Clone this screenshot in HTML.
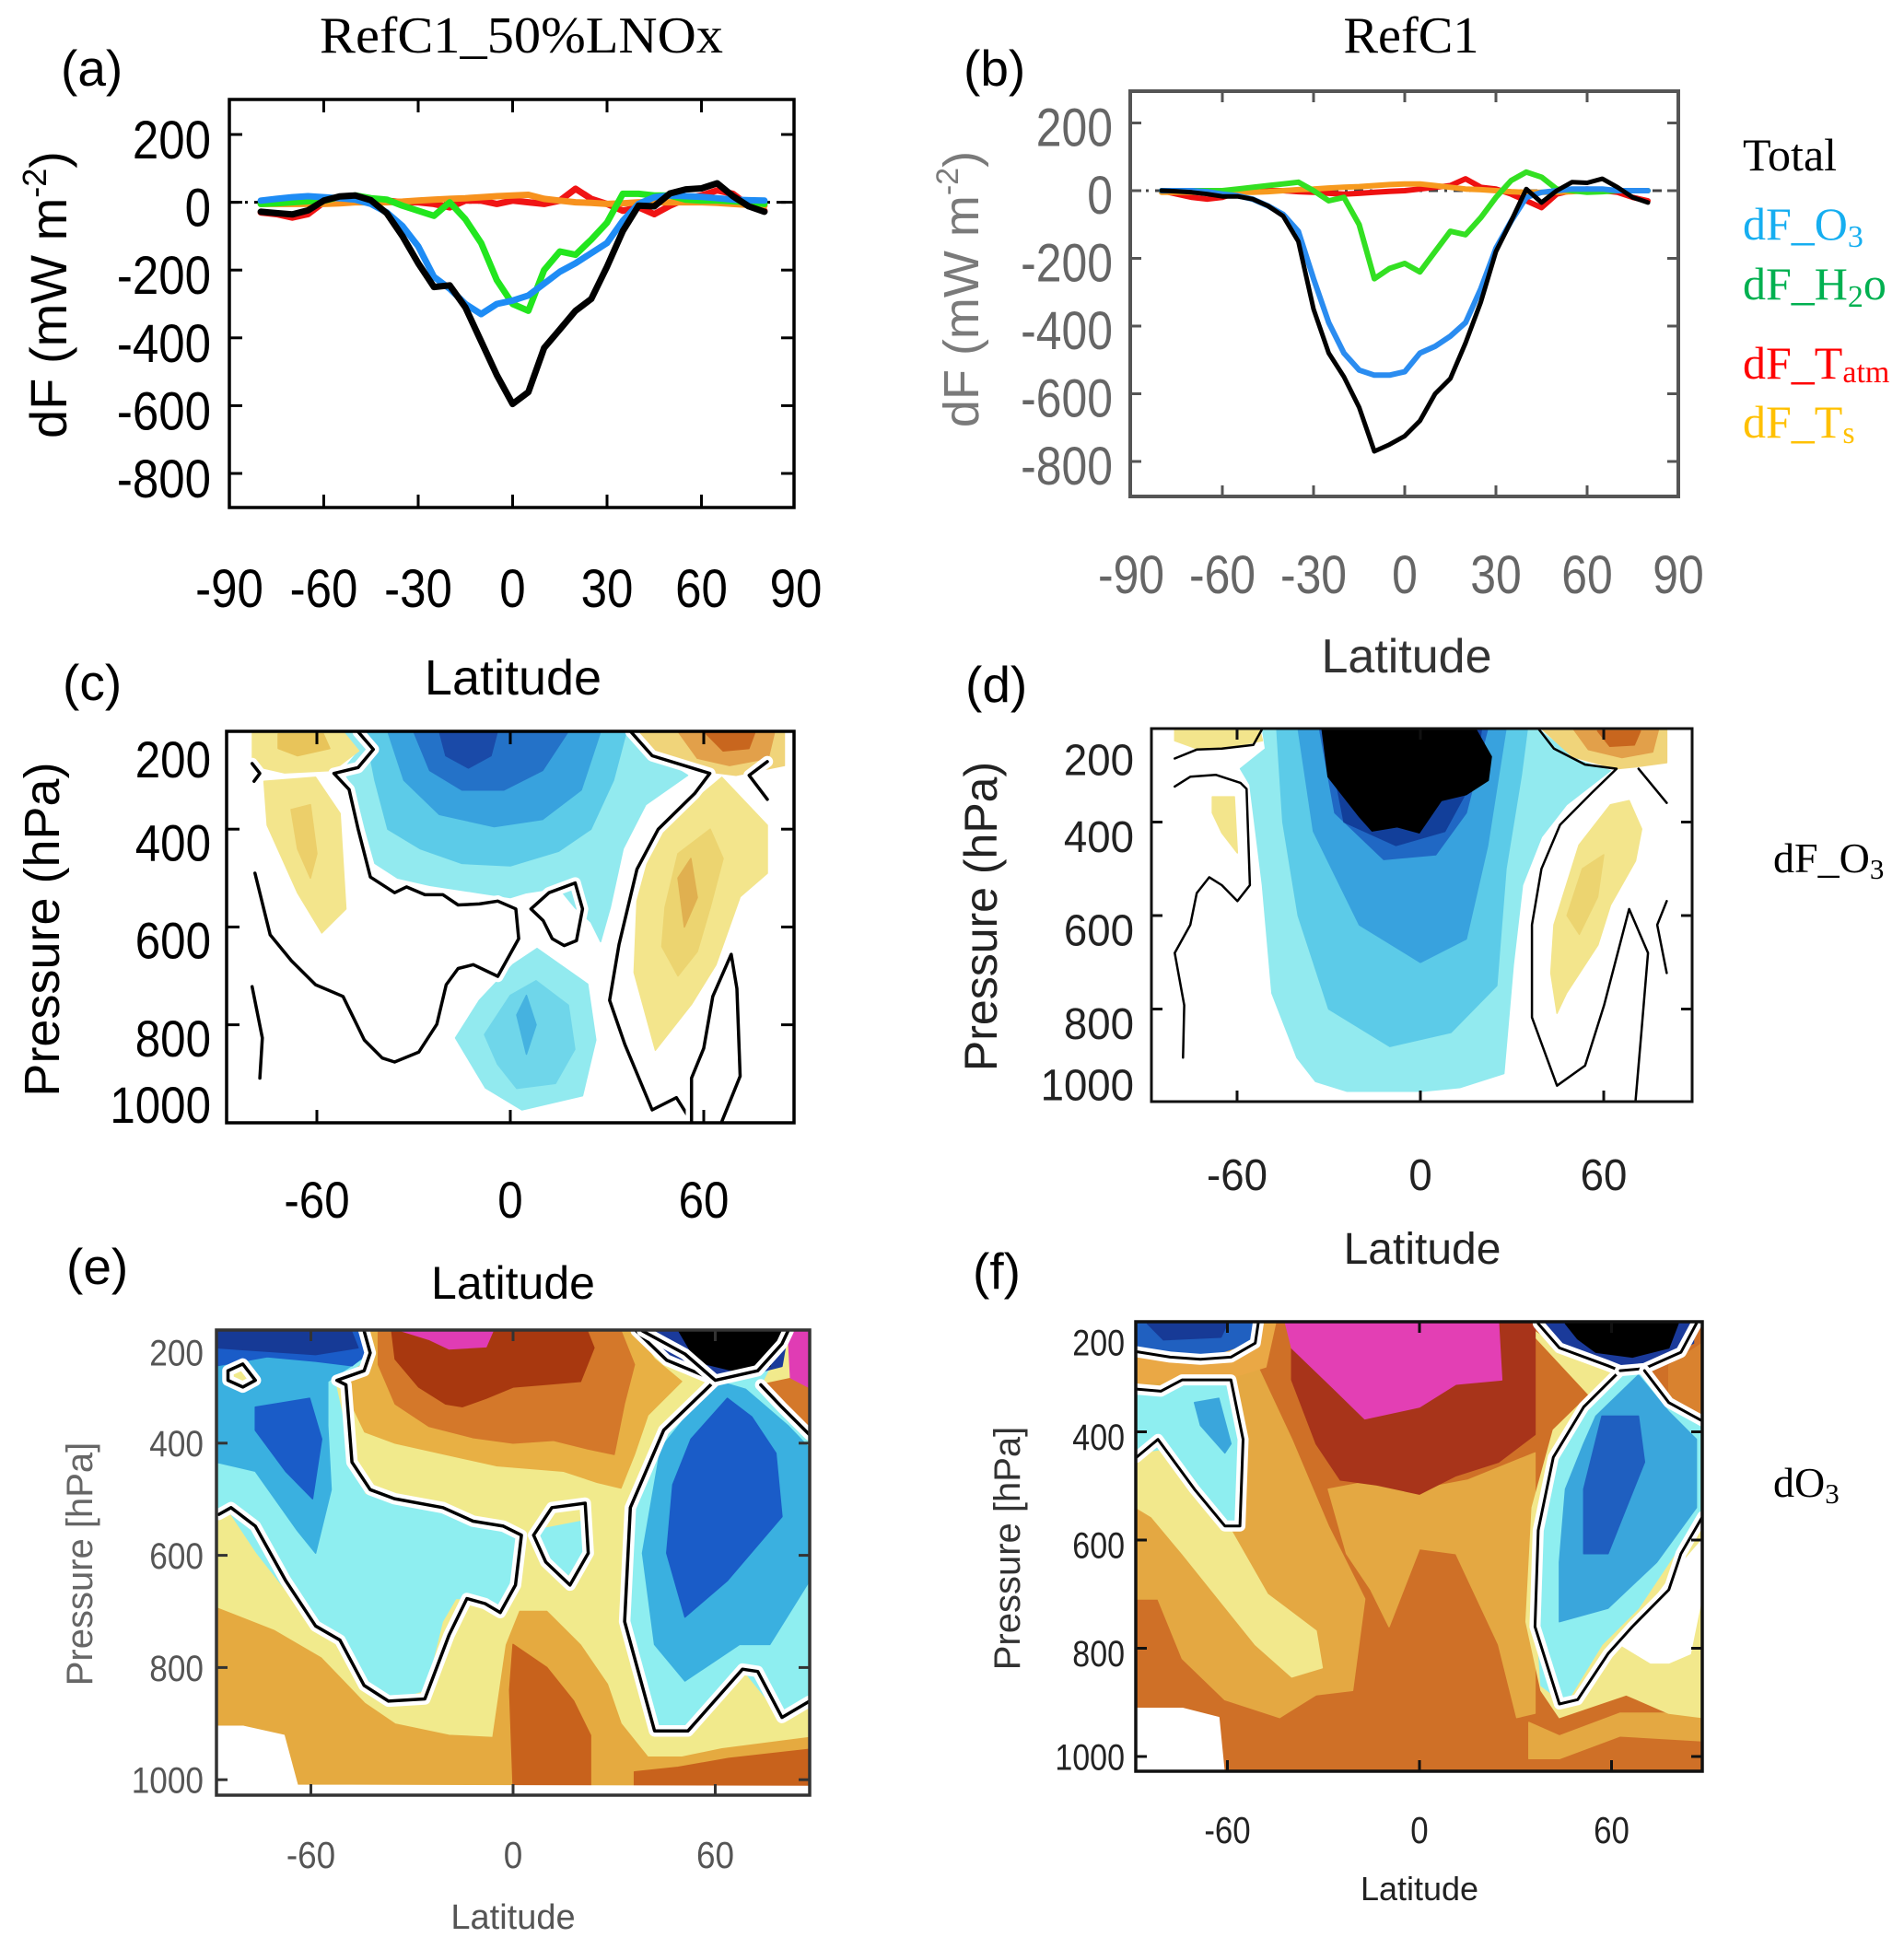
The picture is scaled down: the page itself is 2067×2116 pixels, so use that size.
<!DOCTYPE html>
<html><head><meta charset="utf-8"><title>Radiative forcing and ozone change panels</title>
<style>
html,body{margin:0;padding:0;background:#fff;}
svg{display:block;}
text{font-family:"Liberation Sans",sans-serif;}
.serif{font-family:"Liberation Serif",serif;}
</style></head>
<body>
<svg id="fig" xmlns="http://www.w3.org/2000/svg" width="2067" height="2116" viewBox="0 0 2067 2116">
<defs>
<clipPath id="clipC"><rect x="246" y="794" width="616" height="425"/></clipPath>
<clipPath id="clipD"><rect x="1250" y="791" width="587" height="405"/></clipPath>
<clipPath id="clipE"><rect x="235" y="1444" width="644" height="505"/></clipPath>
<clipPath id="clipF"><rect x="1233" y="1435" width="615" height="488"/></clipPath>
</defs>
<rect x="0" y="0" width="2067" height="2116" fill="#fff"/>

<!-- static labels -->
<text x="66" y="93" font-size="55">(a)</text>
<text x="566" y="57" class="serif" font-size="56" text-anchor="middle" textLength="438" lengthAdjust="spacingAndGlyphs">RefC1_50%LNOx</text>
<text x="1046" y="93" font-size="55">(b)</text>
<text x="1532" y="57" class="serif" font-size="56" text-anchor="middle" textLength="147" lengthAdjust="spacingAndGlyphs">RefC1</text>

<g class="serif" font-size="50">
<text class="serif" x="1892" y="185" fill="#000">Total</text>
<text class="serif" x="1892" y="260" fill="#16aef0">dF_O<tspan font-size="34" dy="8">3</tspan></text>
<text class="serif" x="1892" y="325" fill="#00b050">dF_H<tspan font-size="34" dy="8">2</tspan><tspan dy="-8">o</tspan></text>
<text class="serif" x="1892" y="411" fill="#ff0000">dF_T<tspan font-size="34" dy="4">atm</tspan></text>
<text class="serif" x="1892" y="475" fill="#ffc000">dF_T<tspan font-size="34" dy="6">s</tspan></text>
</g>

<text transform="translate(72,320) rotate(-90)" font-size="56" text-anchor="middle">dF  (mW m<tspan font-size="36" dy="-22">-2</tspan><tspan dy="22">)</tspan></text>
<text transform="translate(1062,314) rotate(-90)" font-size="54" fill="#7a7a7a" text-anchor="middle">dF  (mW m<tspan font-size="34" dy="-22">-2</tspan><tspan dy="22">)</tspan></text>
<text x="1527" y="730" font-size="52" fill="#333" text-anchor="middle">Latitude</text>

<text x="68" y="760" font-size="55">(c)</text>
<text x="557" y="754" font-size="54" text-anchor="middle">Latitude</text>
<text transform="translate(64,1009) rotate(-90)" font-size="54" text-anchor="middle">Pressure (hPa)</text>

<text x="1048" y="762" font-size="55">(d)</text>
<text transform="translate(1082,995) rotate(-90)" font-size="50" fill="#222" text-anchor="middle">Pressure (hPa)</text>
<text x="1925" y="947" class="serif" font-size="46">dF_O<tspan font-size="31" dy="7">3</tspan></text>
<text x="1544" y="1372" font-size="48" fill="#222" text-anchor="middle">Latitude</text>

<text x="72" y="1394" font-size="55">(e)</text>
<text x="557" y="1410" font-size="50" text-anchor="middle">Latitude</text>
<text transform="translate(100,1698) rotate(-90)" font-size="40" fill="#666" text-anchor="middle">Pressure [hPa]</text>
<text x="557" y="2094" font-size="38" fill="#555" text-anchor="middle">Latitude</text>

<text x="1056" y="1399" font-size="55">(f)</text>
<text transform="translate(1107,1681) rotate(-90)" font-size="40" fill="#333" text-anchor="middle">Pressure [hPa]</text>
<text x="1541" y="2063" font-size="36" fill="#222" text-anchor="middle">Latitude</text>
<text x="1925" y="1625" class="serif" font-size="46">dO<tspan font-size="31" dy="7">3</tspan></text>

<g id="pa"></g>
<g id="pb"></g>
<g id="pc"></g>
<g id="pd"></g>
<g id="pe"></g>
<g id="pf"></g>
</svg>

<script>
// ---------------- line-chart data ----------------
const lats = [-80,-75,-70,-65,-60,-55,-50,-45,-40,-35,-30,-25,-20,-15,-10,-5,0,5,10,15,20,25,30,35,40,45,50,55,60,65,70,75,80];
const latTicks = [-90,-60,-30,0,30,60,90];
const dfTicks = [200,0,-200,-400,-600,-800];

const aTotal = [-28,-32,-36,-24,5,17,20,6,-32,-100,-180,-250,-245,-310,-410,-510,-595,-560,-430,-375,-320,-285,-190,-85,-10,-12,26,38,41,56,18,-12,-28];
const aO3    = [5,10,15,18,15,12,8,-5,-30,-70,-130,-220,-255,-300,-330,-300,-290,-275,-240,-205,-180,-150,-120,-55,-5,15,20,18,16,12,8,6,5];
const aH2O   = [-5,-3,0,3,5,15,20,12,8,-10,-25,-40,0,-50,-120,-230,-300,-320,-200,-145,-155,-110,-60,25,25,20,20,8,5,5,3,0,-5];
const aTatm  = [-30,-35,-45,-35,0,15,15,10,5,0,0,-5,-15,5,5,-5,5,0,-5,5,40,10,-5,-25,-15,-35,-10,10,20,35,25,-10,-25];
const aTs    = [-5,-5,-5,-5,-5,-3,0,0,0,2,5,8,10,12,15,18,20,22,10,5,0,-2,-5,-3,0,0,0,0,0,-2,-5,-8,-10];

const bTotal = [0,-2,-5,-10,-17,-17,-25,-45,-75,-150,-350,-480,-550,-640,-770,-750,-725,-680,-600,-555,-450,-330,-180,-90,5,-35,0,25,23,35,10,-20,-35];
const bO3    = [0,0,0,-3,-10,-15,-25,-45,-70,-120,-260,-390,-480,-530,-545,-545,-535,-480,-460,-430,-390,-290,-170,-90,-20,-5,0,5,5,5,0,0,0];
const bH2O   = [0,0,0,0,0,5,10,15,20,25,0,-30,-20,-100,-260,-230,-215,-240,-180,-120,-130,-80,-20,30,55,40,5,0,-5,-3,0,0,0];
const bTatm  = [0,-10,-20,-25,-20,-5,0,0,0,-3,-5,-8,-10,-8,-5,-2,0,5,10,15,35,10,5,-10,-30,-50,-10,0,5,0,-5,-20,-30];
const bTs    = [-5,-5,-5,-5,-5,-5,-5,-3,0,3,5,8,10,12,15,18,20,20,15,10,5,3,0,-3,-5,-5,-5,-3,0,0,0,0,0];

// ---------------- contour-panel data (lat, hPa) ----------------
const contourLatTicks = [-60,0,60];
const pTicks = [200,400,600,800,1000];

// panel c (dF_O3, 50% LNOx)
const cCy1 = [[-52,200],[-47,240],[-52,280],[-48,320],[-45,400],[-42,470],[-35,500],[-25,515],[-10,530],[0,540],[5,530],[15,520],[20,560],[25,590],[28,630],[31,560],[35,440],[42,350],[55,290],[45,250],[37,200]];
const cCy2 = [[-45,200],[-42,300],[-38,400],[-28,440],[-15,470],[0,475],[15,445],[25,400],[32,300],[36,200]];
const cCy3 = [[-38,200],[-33,300],[-22,370],[-5,395],[10,380],[22,320],[28,200]];
const cCy4 = [[-30,200],[-25,280],[-15,320],[-2,320],[10,280],[18,200]];
const cCy5 = [[-22,200],[-20,250],[-13,275],[-6,250],[-4,200]];
const cLow1 = [[-17,827],[-9.6,750],[0.8,677],[8.3,644],[24,717],[26.5,831],[22.4,945],[3.6,974],[-7.7,929]];
const cLow2 = [[-8,820],[0,740],[8,710],[18,760],[20,850],[14,920],[2,930],[-4,880]];
const cLow3 = [[2,780],[5,740],[8,800],[5,860]];
const cYL1 = [[-80,200],[-52,200],[-47,240],[-55,280],[-70,285],[-80,270]];
const cYL1i = [[-72,205],[-58,205],[-56,235],[-66,250],[-72,235]];
const cYL2 = [[-76.4,302],[-60.4,294],[-52.8,368],[-51,563],[-58.5,612],[-66,530],[-75.4,392]];
const cYL2i = [[-68,360],[-62,350],[-60,450],[-62,500],[-66,440]];
const cYR1 = [[40,200],[85,200],[85,270],[70,290],[58,280],[45,250]];
const cYR1i = [[52,200],[82,200],[80,255],[68,270],[58,255]];
const cYR1c = [[60,200],[76,200],[74,235],[66,240]];
const cYR2 = [[39.3,547],[45,408],[65.6,294],[79.7,392],[79.7,490],[71.3,538],[63.8,677],[56.2,758],[45,852],[38.4,693]];
const cYR2i = [[48,560],[52,450],[62,400],[66,460],[62,560],[58,650],[52,700],[47,640]];
const cYR2c = [[52,500],[56,460],[58,540],[54,600]];
const cL1 = [[-47.2,201],[-42.5,237],[-47.2,274],[-54.7,286],[-50,319],[-47.2,400],[-43.4,498],[-35.9,530],[-32.2,518],[-26.5,534],[-20.9,534],[-16.2,555],[-9.6,553],[-3.9,547],[1.7,563],[2.6,624],[-3.9,701],[-11.5,677],[-16.2,685],[-19.9,718],[-22.8,799],[-28.4,856],[-35.9,876],[-39.7,868],[-45.3,831],[-51.9,742],[-60.4,718],[-67.9,669],[-74.5,616],[-79.2,490]];
const cL2 = [[6.4,563],[12,530],[20.1,510],[22.4,563],[20.5,628],[16.7,638],[13,624],[10.2,587],[6.4,563]];
const cL3 = [[-80.1,722],[-76.9,827],[-77.7,909]];
const cL4 = [[-80.1,266],[-77.7,286],[-79.5,302]];
const cL5 = [[37.4,201],[44,250],[61.9,286],[57.2,327],[45.9,400],[39.3,482],[33.7,636],[30.8,750],[35.5,840],[44,974],[51.5,949],[56.2,998]];
const cL6 = [[79.7,262],[74.1,290],[79.7,339]];
const cL7 = [[65.6,998],[71.3,905],[70.3,726],[68.5,656],[62.8,742],[60,848],[56.2,909],[56.2,998]];

// panel d (dF_O3, RefC1)
const dCy1 = [[-51.7,200],[-50.7,243],[-58.9,286],[-55.8,320],[-51.7,535],[-48.6,766],[-40.4,904],[-34.3,955],[-24,976],[0.6,976],[12.9,968],[27.3,938],[30.4,706],[33.4,535],[39.6,432],[47.8,363],[62.2,290],[51.9,269],[41.6,217],[38.6,200]];
const dCy2 = [[-47,200],[-45,400],[-40,600],[-30,800],[-10,880],[10,850],[25,750],[28,500],[33,300],[35,200]];
const dCy3 = [[-40,200],[-35,420],[-20,620],[0,700],[15,650],[22,450],[28,200]];
const dCy4 = [[-33,200],[-28,380],[-12,480],[5,470],[15,380],[22,200]];
const dCy5 = [[-31,200],[-25,400],[-8,450],[8,420],[18,300],[20,200]];
const dBk = [[-32.2,200],[-30.2,303],[-19.9,389],[-15.8,419],[-7.6,410],[-0.4,423],[6.8,354],[15,341],[22.2,311],[23.2,260],[18,200]];
const dYL1 = [[-80.4,200],[-52.7,200],[-51.7,226],[-60.9,238],[-73.2,243],[-80.4,226]];
const dYL2 = [[-68.1,346],[-60.9,346],[-59.9,466],[-65,423],[-68.1,380]];
const dYR1 = [[39.6,200],[80.6,200],[80.6,273],[70.4,282],[64.2,286],[49.8,260]];
const dYR1i = [[50,200],[78,200],[76,250],[66,262],[55,245]];
const dYR1c = [[58,205],[72,205],[70,235],[62,238]];
const dYR2 = [[43.7,620],[51.9,449],[62.2,363],[68.3,354],[72.4,415],[70.4,483],[62.2,578],[58.1,663],[47.8,766],[44.7,809],[42.7,723]];
const dYR2i = [[48,600],[53,500],[60,470],[58,560],[52,640]];
const dL1 = [[-80.4,264],[-73.2,245],[-65,243],[-54.7,235],[-51.7,200]];
const dL2 = [[-80.4,324],[-75.3,303],[-67,299],[-58.9,316],[-56.9,329],[-55.8,535],[-59.9,569],[-65,535],[-69.1,518],[-73.2,552],[-75.3,620],[-80.4,680],[-77.3,792],[-77.7,904]];
const dL3 = [[38.6,200],[43.7,243],[53.9,277],[64.2,286],[56,338],[45.7,406],[39.6,500],[36.5,620],[36.5,818],[44.7,964],[53.9,921],[60.1,792],[68.3,586],[74.5,680],[72.4,843],[70.4,998]];
const dL4 = [[71.4,286],[80.6,359]];
const dL5 = [[80.6,569],[77.5,620],[80.6,723]];

// panel e (dO3, 50% LNOx)
const eOrLow = [[-88,694],[-71,734],[-57,783],[-44,864],[-35,901],[-19,921],[-6,925],[-2,760],[2,700],[10,700],[20,760],[28,830],[32,900],[40,960],[50,960],[62,945],[75,935],[88,925],[88,1030],[-88,1030]];
const eBrC = [[0,759],[10,800],[18,860],[23,921],[23,1010],[0,1010],[-1,840]];
const eBrR = [[36,986],[49,978],[64,962],[88,946],[88,1011],[36,1011]];
const eWh = [[-88,905],[-80,905],[-68,921],[-64,1010],[88,1012],[88,1030],[-88,1030]];
const eO1 = [[-44,200],[-42,247],[-52,288],[-48,330],[-44,380],[-35,400],[-20,420],[-5,440],[5,445],[15,450],[25,470],[32,480],[36,420],[40,350],[50,290],[42,250],[36,200]];
const eO2 = [[-40,200],[-40,260],[-35,330],[-25,370],[-12,390],[0,400],[12,395],[22,410],[30,420],[33,330],[36,260],[32,200]];
const eO3 = [[-36,200],[-35,250],[-28,300],[-20,330],[-15,335],[-8,320],[0,300],[10,295],[20,290],[24,230],[22,200]];
const eMag = [[-33,200],[-25,215],[-19,232],[-8,228],[-6,200]];
const eCyL = [[-88,200],[-44,200],[-42,247],[-53,288],[-50,369],[-44,491],[-37,507],[-19,523],[-5,548],[2.5,564],[2.5,629],[-3,694],[-10,677],[-17,677],[-21,718],[-26,840],[-37,860],[-44,832],[-51,751],[-59,726],[-76,596],[-85,515],[-88,515]];
const eBlL = [[-88,200],[-44,200],[-45,250],[-55,290],[-55,369],[-54,483],[-58.6,596],[-64,556],[-76.5,450],[-88,434]];
const eDkL1 = [[-88,200],[-44,200],[-42.4,236],[-47.8,262],[-58.6,254],[-73,246],[-88,262]];
const eDkL2 = [[-76.5,336],[-60.4,320],[-56.8,393],[-59.5,499],[-67.5,450],[-76.5,377]];
const eNvL = [[-88,200],[-48,200],[-46,230],[-58.6,242],[-88,230]];
const eYl = [[-84.6,271],[-80.2,259],[-76.5,288],[-80.2,300],[-84.6,288]];
const eCyM = [[6,556],[20.5,539],[21.4,596],[16,637],[6,580]];
const eCyR = [[36.6,200],[45.6,247],[60,288],[43.8,377],[34.8,515],[33.9,718],[42,913],[51,913],[68.1,803],[79.8,889],[88,860],[88,385],[73.5,296],[81.6,200]];
const eBlR = [[43.8,409],[60,288],[69,304],[81.6,369],[88,409],[88,645],[76.2,759],[67.2,759],[51,824],[42,759],[38.4,596]];
const eDkR = [[52.8,393],[63.6,320],[70.8,353],[78,418],[79.8,531],[63.6,645],[51,710],[45.6,596],[47.4,474]];
const eNvR = [[38.4,200],[81.6,200],[79.8,263],[65.4,285],[60,288],[48,250]];
const eBkR = [[49.2,200],[79.8,200],[76.2,263],[65.4,271],[54.6,255]];
const eMgR = [[81.6,200],[88,200],[88,304],[82.4,288]];
const eOrR = [[73.5,296],[82,285],[88,304],[88,385]];
const eC1 = [[-87.3,527],[-83.7,515],[-76.5,548],[-67.5,645],[-58.6,726],[-51.4,751],[-44.2,832],[-37,860],[-26.2,856],[-19,742],[-13.7,677],[-8.3,686],[-3.8,702],[0.7,653],[2.5,564],[-2.9,548],[-11.9,539],[-20.8,515],[-35.2,499],[-42.4,483],[-47.8,434],[-49.6,296],[-52.3,288],[-44.2,271],[-42.4,239],[-44.2,200]];
const eC2 = [[6.1,564],[11.5,515],[21.4,507],[22.3,596],[16.9,653],[9.7,612],[6.1,564]];
const eC3 = [[36.6,200],[45.6,252],[60,288],[44.7,377],[34.8,515],[33.1,718],[42,913],[51.9,913],[68.1,803],[72.6,807],[79.8,889],[88,860]];
const eC4 = [[38.4,200],[51,241],[60,288],[72.6,271],[79.8,223],[81.6,200]];
const eC5 = [[73.5,296],[79.8,336],[88,385]];
const eC6 = [[-84.6,271],[-80.2,259],[-76.5,288],[-80.2,300],[-84.6,288],[-84.6,271]];

// panel f (dO3, RefC1)
const fLo1 = [[-88.4,270],[-51.3,270],[-39.9,414],[-28.5,574],[-17.1,709],[-20.9,878],[-32.3,886],[-43.7,928],[-60.8,895],[-74.1,819],[-81.7,709],[-88.4,709]];
const fLo2 = [[-28.5,506],[-13.3,489],[0,506],[15.2,489],[36.1,439],[36.1,920],[30.4,928],[24.7,793],[11.4,625],[0,616],[-9.5,760],[-15.2,692],[-22.8,625]];
const fLo3 = [[34.2,937],[43.7,962],[62.7,920],[88.4,920],[88.4,971],[62.7,962],[43.7,1004],[34.2,1004]];
const fYlL = [[-88.4,422],[-81.7,405],[-70.3,506],[-58.9,582],[-47.5,700],[-32.3,768],[-30.4,836],[-39.9,853],[-51.3,793],[-62.7,709],[-74.1,625],[-83.7,557],[-88.4,540]];
const fYlR = [[32.3,200],[43.7,245],[60.8,287],[41.8,397],[35.2,540],[33.3,751],[38,878],[43.7,928],[64.6,886],[77.9,920],[88.4,928],[88.4,557]];
const fWhR = [[62.7,793],[79.8,658],[88.4,599],[88.4,700],[84.6,810],[77.9,827],[72.2,827]];
const fDk = [[-39.9,200],[36.1,200],[36.1,405],[24.7,456],[11.4,481],[0,515],[-13.3,498],[-24.7,489],[-32.3,422],[-39.9,304]];
const fMag = [[-41.8,200],[24.7,200],[25.7,304],[11.4,312],[0,354],[-17.1,376],[-26.6,321],[-39.9,245]];
const fStripL = [[-88.4,253],[-68.4,266],[-53.2,236],[-51.3,200],[-45,200],[-48,280],[-58.9,300],[-74,300],[-88.4,312]];
const fCyL = [[-88.4,312],[-79.8,321],[-74.1,304],[-58.9,308],[-55.1,414],[-57,565],[-60.8,582],[-70.3,506],[-77.9,430],[-88.4,439]];
const fBlL = [[-70.3,346],[-62.7,338],[-58.9,422],[-60.8,439],[-68.4,388]];
const fTopL = [[-88.4,200],[-51.3,200],[-53.2,236],[-68.4,266],[-88.4,253]];
const fTopL2 = [[-85,200],[-60,200],[-62,225],[-80,230]];
const fCyR = [[60.8,287],[70.3,287],[77.9,354],[88.4,371],[88.4,557],[79.8,625],[68.4,726],[57,793],[45.6,903],[38,869],[36.1,709],[39,523],[43.7,414],[53.2,338]];
const fBlR = [[55.1,371],[68.4,295],[77.9,363],[86.5,414],[86.5,540],[74.1,641],[58.9,726],[43.7,751],[43.7,641],[45.6,506],[51.3,422]];
const fDkR = [[57,371],[68.4,371],[70.3,456],[64.6,540],[58.9,625],[51.3,625],[51.3,506]];
const fNvR = [[37.1,200],[85.6,200],[85.6,236],[72.2,278],[62.7,287],[49.4,262],[39.9,228]];
const fBkR = [[45.6,200],[80.8,200],[77.9,245],[66.5,262],[55.1,253],[49.4,228]];
const fOrR = [[77.9,278],[88.4,236],[88.4,380],[77.9,354]];
const fWhL = [[-88.4,911],[-74,911],[-62.7,928],[-61,1030],[-88.4,1030]];
const fC1 = [[-88.4,252],[-77.9,262],[-68.4,266],[-58.9,262],[-51.3,236],[-50.4,200]];
const fC2 = [[-88.4,321],[-80.8,325],[-74.1,304],[-58.9,304],[-55.1,414],[-56.1,574],[-60.8,574],[-70.3,506],[-81.7,414],[-88.4,447]];
const fC3 = [[37.1,200],[43.7,245],[58.9,278],[62.7,287],[51.3,354],[41.8,447],[37.1,582],[36.1,760],[43.7,903],[49.4,895],[58.9,810],[66.5,760],[77.9,692],[81.7,625],[88.4,557]];
const fC4 = [[62.7,287],[70.3,283],[81.7,253],[86.5,200]];
const fC5 = [[70.3,287],[77.9,346],[88.4,380]];

// ---------------- drawing ----------------
const NS = 'http://www.w3.org/2000/svg';
function add(parent, tag, attrs, name) {
  const e = document.createElementNS(NS, tag);
  for (const k in attrs) e.setAttribute(k, attrs[k]);
  
  
  parent.appendChild(e);
  return e;
}
function label(parent, str, x, y, size, anchor, fill, sx, name) {
  const t = add(parent, 'text', {transform: 'translate(' + x + ',' + y + ') scale(' + sx + ',1)', 'font-size': size, 'text-anchor': anchor, fill: fill}, name);
  t.textContent = str;
  return t;
}
function pts(arr, X, Y) { return arr.map(q => X(q[0]).toFixed(1) + ',' + Y(q[1]).toFixed(1)).join(' '); }
function poly(g, arr, X, Y, fill, name) { return add(g, 'polygon', {points: pts(arr, X, Y), fill: fill, stroke: fill, 'stroke-width': 1.5, 'stroke-linejoin': 'round'}, name); }
function cline(g, arr, X, Y, w, halo, name) {
  if (halo) add(g, 'polyline', {points: pts(arr, X, Y), fill: 'none', stroke: '#fff', 'stroke-width': w + 9, 'stroke-linejoin': 'round', 'stroke-linecap': 'round'}, name + '-halo');
  return add(g, 'polyline', {points: pts(arr, X, Y), fill: 'none', stroke: '#000', 'stroke-width': w, 'stroke-linejoin': 'round', 'stroke-linecap': 'round'}, name);
}
function series(g, vals, X, Y, color, w, name) {
  const p = lats.map((l, i) => X(l).toFixed(1) + ',' + Y(vals[i]).toFixed(1)).join(' ');
  return add(g, 'polyline', {points: p, fill: 'none', stroke: color, 'stroke-width': w, 'stroke-linejoin': 'round', 'stroke-linecap': 'round'}, name);
}
function frame(g, box, color, w, name) {
  add(g, 'rect', {x: box.x0, y: box.y0, width: box.x1 - box.x0, height: box.y1 - box.y0, fill: 'none', stroke: color, 'stroke-width': w}, name);
}
function xTicksMarks(g, box, vals, X, color, len, name) {
  vals.forEach(v => {
    const x = X(v);
    if (x <= box.x0 + 2 || x >= box.x1 - 2) return;
    add(g, 'line', {x1: x, y1: box.y0, x2: x, y2: box.y0 + len, stroke: color, 'stroke-width': 3}, name + '-top');
    add(g, 'line', {x1: x, y1: box.y1, x2: x, y2: box.y1 - len, stroke: color, 'stroke-width': 3}, name + '-bottom');
  });
}
function yTicksMarks(g, box, vals, Y, color, len, name) {
  vals.forEach(v => {
    const y = Y(v);
    if (y <= box.y0 + 2 || y >= box.y1 - 2) return;
    add(g, 'line', {x1: box.x0, y1: y, x2: box.x0 + len, y2: y, stroke: color, 'stroke-width': 3}, name + '-left');
    add(g, 'line', {x1: box.x1, y1: y, x2: box.x1 - len, y2: y, stroke: color, 'stroke-width': 3}, name + '-right');
  });
}

// ----- panel a -----
(function () {
  const g = document.getElementById('pa');
  const box = {x0: 249, x1: 862, y0: 108, y1: 551};
  const X = lat => 556.5 + lat * 3.417;
  const Y = v => 219.6 - v * 0.368;
  add(g, 'line', {x1: box.x0, y1: Y(0), x2: box.x1, y2: Y(0), stroke: '#000', 'stroke-width': 3, 'stroke-dasharray': '10,7,3,7'}, 'zero-line-a');
  series(g, aTatm, X, Y, '#f01414', 7, 'line-a-df-tatm');
  series(g, aTs, X, Y, '#f7921e', 7, 'line-a-df-ts');
  series(g, aH2O, X, Y, '#22e61e', 7, 'line-a-df-h2o');
  series(g, aO3, X, Y, '#1e8cf5', 7, 'line-a-df-o3');
  series(g, aTotal, X, Y, '#000', 7, 'line-a-total');
  frame(g, box, '#000', 3.5, 'frame-a');
  xTicksMarks(g, box, latTicks, X, '#000', 14, 'x-tick-a');
  yTicksMarks(g, box, dfTicks, Y, '#000', 14, 'y-tick-a');
  latTicks.forEach(v => label(g, String(v), X(v), 659, 58, 'middle', '#000', 0.88, 'x-tick-label-a'));
  dfTicks.forEach(v => label(g, String(v), 229, Y(v) + 26, 58, 'end', '#000', 0.88, 'y-tick-label-a'));
})();

// ----- panel b -----
(function () {
  const g = document.getElementById('pb');
  const box = {x0: 1227, x1: 1822, y0: 99, y1: 539};
  const X = lat => 1525 + lat * 3.3;
  const Y = v => 207 - v * 0.3675;
  add(g, 'line', {x1: box.x0, y1: Y(0), x2: box.x1, y2: Y(0), stroke: '#444', 'stroke-width': 3, 'stroke-dasharray': '10,7,3,7'}, 'zero-line-b');
  series(g, bTatm, X, Y, '#ee1111', 6, 'line-b-df-tatm');
  series(g, bTs, X, Y, '#f79a1e', 6, 'line-b-df-ts');
  series(g, bH2O, X, Y, '#33e022', 6, 'line-b-df-h2o');
  series(g, bO3, X, Y, '#2a8cf0', 6, 'line-b-df-o3');
  series(g, bTotal, X, Y, '#000', 5, 'line-b-total');
  frame(g, box, '#555', 4, 'frame-b');
  xTicksMarks(g, box, latTicks, X, '#555', 12, 'x-tick-b');
  yTicksMarks(g, box, dfTicks, Y, '#555', 12, 'y-tick-b');
  latTicks.forEach(v => label(g, String(v), X(v), 644, 58, 'middle', '#666', 0.86, 'x-tick-label-b'));
  dfTicks.forEach(v => label(g, String(v), 1208, Y(v) + 25, 58, 'end', '#666', 0.86, 'y-tick-label-b'));
})();

function ylabels(g, vals, Y, box, xRight, size, off, topPad, botPad, fill, sx, name) {
  vals.forEach(v => {
    const c = Math.min(Math.max(Y(v) + off, box.y0 + topPad), box.y1 - botPad);
    label(g, String(v), xRight, c + size * 0.36, size, 'end', fill, sx, name);
  });
}

// ----- panel c -----
(function () {
  const g = document.getElementById('pc');
  const box = {x0: 246, x1: 862, y0: 794, y1: 1219};
  const X = lat => 554 + lat * 3.5;
  const Y = p => 794 + (p - 200) * 0.531;
  const inner = add(g, 'g', {'clip-path': 'url(#clipC)'}, 'contour-field-c');
  poly(inner, cCy1, X, Y, '#92eaef', 'level-c-1');
  poly(inner, cCy2, X, Y, '#5ccbe8', 'level-c-2');
  poly(inner, cCy3, X, Y, '#38a2de', 'level-c-3');
  poly(inner, cCy4, X, Y, '#2472c8', 'level-c-4');
  poly(inner, cCy5, X, Y, '#1a4aa8', 'level-c-5');
  poly(inner, cLow1, X, Y, '#92eaef', 'level-c-low-1');
  poly(inner, cLow2, X, Y, '#6fd6ea', 'level-c-low-2');
  poly(inner, cLow3, X, Y, '#45b2e0', 'level-c-low-3');
  poly(inner, cYL1, X, Y, '#f3e58c', 'pos-c-left-top');
  poly(inner, cYL1i, X, Y, '#e8c45a', 'pos-c-left-top-core');
  poly(inner, cYL2, X, Y, '#f3e58c', 'pos-c-left-mid');
  poly(inner, cYL2i, X, Y, '#eccf6a', 'pos-c-left-mid-core');
  poly(inner, cYR1, X, Y, '#f0d47a', 'pos-c-right-top');
  poly(inner, cYR1i, X, Y, '#e2a04a', 'pos-c-right-top-mid');
  poly(inner, cYR1c, X, Y, '#c8661e', 'pos-c-right-top-core');
  poly(inner, cYR2, X, Y, '#f3e58c', 'pos-c-right-mid');
  poly(inner, cYR2i, X, Y, '#ecd470', 'pos-c-right-mid-2');
  poly(inner, cYR2c, X, Y, '#e0b050', 'pos-c-right-mid-core');
  [cL1, cL2, cL3, cL4, cL5, cL6, cL7].forEach((l, i) => cline(inner, l, X, Y, 3.5, true, 'contour-c-' + i));
  frame(g, box, '#000', 3.5, 'frame-c');
  xTicksMarks(g, box, contourLatTicks, X, '#000', 14, 'x-tick-c');
  yTicksMarks(g, box, pTicks, Y, '#000', 14, 'y-tick-c');
  contourLatTicks.forEach(v => label(g, String(v), X(v), 1322, 56, 'middle', '#000', 0.88, 'x-tick-label-c'));
  ylabels(g, pTicks, Y, box, 229, 56, 14, 30, 20, '#000', 0.88, 'y-tick-label-c');
})();

// ----- panel d -----
(function () {
  const g = document.getElementById('pd');
  const box = {x0: 1250, x1: 1837, y0: 791, y1: 1196};
  const X = lat => 1542 + lat * 3.317;
  const Y = p => 791 + (p - 200) * 0.5075;
  const inner = add(g, 'g', {'clip-path': 'url(#clipD)'}, 'contour-field-d');
  poly(inner, dCy1, X, Y, '#92eaef', 'level-d-1');
  poly(inner, dCy2, X, Y, '#5ccbe8', 'level-d-2');
  poly(inner, dCy3, X, Y, '#38a2de', 'level-d-3');
  poly(inner, dCy4, X, Y, '#2068c4', 'level-d-4');
  poly(inner, dCy5, X, Y, '#123f9a', 'level-d-5');
  poly(inner, dBk, X, Y, '#000', 'level-d-max');
  poly(inner, dYL1, X, Y, '#f3e58c', 'pos-d-left-top');
  poly(inner, dYL2, X, Y, '#f3e58c', 'pos-d-left-mid');
  poly(inner, dYR1, X, Y, '#f0d47a', 'pos-d-right-top');
  poly(inner, dYR1i, X, Y, '#e2a04a', 'pos-d-right-top-mid');
  poly(inner, dYR1c, X, Y, '#c8661e', 'pos-d-right-top-core');
  poly(inner, dYR2, X, Y, '#f3e58c', 'pos-d-right-mid');
  poly(inner, dYR2i, X, Y, '#ecd470', 'pos-d-right-mid-core');
  [dL1, dL2, dL3, dL4, dL5].forEach((l, i) => cline(inner, l, X, Y, 2.5, false, 'contour-d-' + i));
  frame(g, box, '#111', 3, 'frame-d');
  xTicksMarks(g, box, contourLatTicks, X, '#111', 12, 'x-tick-d');
  yTicksMarks(g, box, pTicks, Y, '#111', 12, 'y-tick-d');
  contourLatTicks.forEach(v => label(g, String(v), X(v), 1292, 48, 'middle', '#222', 0.95, 'x-tick-label-d'));
  ylabels(g, pTicks, Y, box, 1231, 48, 15, 33, 19, '#222', 0.95, 'y-tick-label-d');
})();

// ----- panel e -----
(function () {
  const g = document.getElementById('pe');
  const box = {x0: 235, x1: 879, y0: 1444, y1: 1949};
  const X = lat => 557 + lat * 3.658;
  const Y = p => 1445 + (p - 200) * 0.609;
  const inner = add(g, 'g', {'clip-path': 'url(#clipE)'}, 'contour-field-e');
  add(inner, 'rect', {x: box.x0, y: box.y0, width: box.x1 - box.x0, height: box.y1 - box.y0, fill: '#f1ea8c'}, 'base-e');
  poly(inner, eOrLow, X, Y, '#e5aa40', 'level-e-orange-low');
  poly(inner, eBrC, X, Y, '#c8621c', 'level-e-brown-center');
  poly(inner, eBrR, X, Y, '#c8621c', 'level-e-brown-right');
  poly(inner, eWh, X, Y, '#ffffff', 'level-e-missing');
  poly(inner, eO1, X, Y, '#e8b044', 'level-e-orange-1');
  poly(inner, eO2, X, Y, '#d4782a', 'level-e-orange-2');
  poly(inner, eO3, X, Y, '#a8380f', 'level-e-orange-3');
  poly(inner, eMag, X, Y, '#e03cb4', 'level-e-magenta');
  poly(inner, eCyL, X, Y, '#8eeef0', 'level-e-cyan-left');
  poly(inner, eBlL, X, Y, '#3ab0e0', 'level-e-blue-left');
  poly(inner, eDkL1, X, Y, '#1a5cc8', 'level-e-dark-left-top');
  poly(inner, eDkL2, X, Y, '#1a5cc8', 'level-e-dark-left');
  poly(inner, eNvL, X, Y, '#163a96', 'level-e-navy-left');
  poly(inner, eYl, X, Y, '#f1ea8c', 'level-e-yellow-loop');
  poly(inner, eCyM, X, Y, '#8eeef0', 'level-e-cyan-mid');
  poly(inner, eCyR, X, Y, '#8eeef0', 'level-e-cyan-right');
  poly(inner, eBlR, X, Y, '#3ab0e0', 'level-e-blue-right');
  poly(inner, eDkR, X, Y, '#1a5cc8', 'level-e-dark-right');
  poly(inner, eNvR, X, Y, '#1a3a9a', 'level-e-navy-right');
  poly(inner, eBkR, X, Y, '#000', 'level-e-black-right');
  poly(inner, eMgR, X, Y, '#e03cb4', 'level-e-magenta-right');
  poly(inner, eOrR, X, Y, '#d4782a', 'level-e-orange-right');
  [eC1, eC2, eC3, eC4, eC5, eC6].forEach((l, i) => cline(inner, l, X, Y, 3.5, true, 'contour-e-' + i));
  frame(g, box, '#333', 3.5, 'frame-e');
  xTicksMarks(g, box, contourLatTicks, X, '#333', 12, 'x-tick-e');
  yTicksMarks(g, box, pTicks, Y, '#333', 12, 'y-tick-e');
  contourLatTicks.forEach(v => label(g, String(v), X(v), 2028, 41, 'middle', '#555', 0.9, 'x-tick-label-e'));
  ylabels(g, pTicks, Y, box, 221, 40, 0, 24, 16, '#555', 0.88, 'y-tick-label-e');
})();

// ----- panel f -----
(function () {
  const g = document.getElementById('pf');
  const box = {x0: 1233, x1: 1848, y0: 1435, y1: 1923};
  const X = lat => 1541 + lat * 3.475;
  const Y = p => 1437 + (p - 200) * 0.5875;
  const inner = add(g, 'g', {'clip-path': 'url(#clipF)'}, 'contour-field-f');
  add(inner, 'rect', {x: box.x0, y: box.y0, width: box.x1 - box.x0, height: box.y1 - box.y0, fill: '#cf7027'}, 'base-f');
  poly(inner, fLo1, X, Y, '#e4a842', 'level-f-orange-left');
  poly(inner, fLo2, X, Y, '#e4a842', 'level-f-orange-center');
  poly(inner, fLo3, X, Y, '#e4a842', 'level-f-orange-right');
  poly(inner, fYlL, X, Y, '#f2e88c', 'level-f-yellow-left');
  poly(inner, fYlR, X, Y, '#f2e88c', 'level-f-yellow-right');
  poly(inner, fWhR, X, Y, '#ffffff', 'level-f-white-right');
  poly(inner, fDk, X, Y, '#a8341a', 'level-f-dark-top');
  poly(inner, fMag, X, Y, '#e33fb4', 'level-f-magenta');
  poly(inner, fStripL, X, Y, '#eaa845', 'level-f-strip-left');
  poly(inner, fCyL, X, Y, '#8eeef0', 'level-f-cyan-left');
  poly(inner, fBlL, X, Y, '#3aa6dc', 'level-f-blue-left');
  poly(inner, fTopL, X, Y, '#2060c0', 'level-f-blue-top-left');
  poly(inner, fTopL2, X, Y, '#173a96', 'level-f-navy-top-left');
  poly(inner, fCyR, X, Y, '#8eeef0', 'level-f-cyan-right');
  poly(inner, fBlR, X, Y, '#3aa6dc', 'level-f-blue-right');
  poly(inner, fDkR, X, Y, '#1f5fc0', 'level-f-dark-right');
  poly(inner, fNvR, X, Y, '#1a3a9a', 'level-f-navy-right');
  poly(inner, fBkR, X, Y, '#000', 'level-f-black-right');
  poly(inner, fOrR, X, Y, '#d9822f', 'level-f-orange-top-right');
  poly(inner, fWhL, X, Y, '#ffffff', 'level-f-missing');
  [fC1, fC2, fC3, fC4, fC5].forEach((l, i) => cline(inner, l, X, Y, 3, true, 'contour-f-' + i));
  frame(g, box, '#111', 3.5, 'frame-f');
  xTicksMarks(g, box, contourLatTicks, X, '#111', 12, 'x-tick-f');
  yTicksMarks(g, box, pTicks, Y, '#111', 12, 'y-tick-f');
  contourLatTicks.forEach(v => label(g, String(v), X(v), 2001, 41, 'middle', '#222', 0.85, 'x-tick-label-f'));
  ylabels(g, pTicks, Y, box, 1221, 40, 5, 22, 16, '#222', 0.85, 'y-tick-label-f');
})();
</script>
</body></html>
